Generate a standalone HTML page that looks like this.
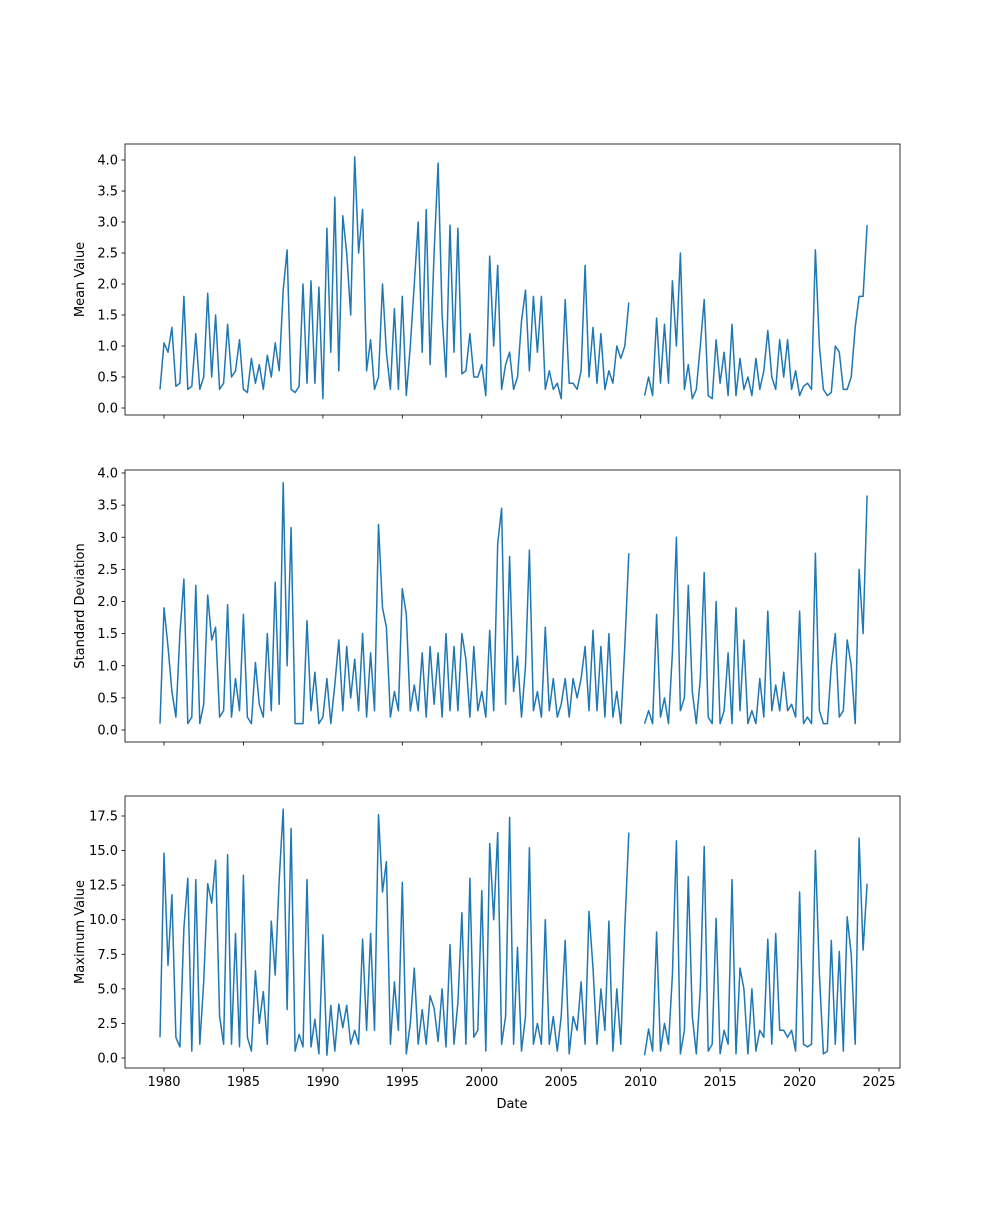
<!DOCTYPE html>
<html>
<head>
<meta charset="utf-8">
<style>
html,body{margin:0;padding:0;background:#fff;}
svg text{font-family:"DejaVu Sans","Liberation Sans",sans-serif;font-size:13px;fill:#000;}
</style>
</head>
<body>
<svg id="chart" width="1000" height="1200" xmlns="http://www.w3.org/2000/svg"></svg>
<script>
// quarterly samples starting 1979.75
const startYear = 1979.75;
const stepYears = 0.25;
const meanValues = [0.3,
1.05,0.9,1.3,0.35, 0.4,1.8,0.3,0.35, 1.2,0.3,0.5,1.85, 0.5,1.5,0.3,0.4, 1.35,0.5,0.6,1.1,
0.3,0.25,0.8,0.4, 0.7,0.3,0.85,0.5, 1.05,0.6,1.9,2.55, 0.3,0.25,0.35,2.0, 0.4,2.05,0.4,1.95,
0.15,2.9,0.9,3.4, 0.6,3.1,2.5,1.5, 4.05,2.5,3.2,0.6, 1.1,0.3,0.5,2.0, 0.9,0.3,1.6,0.3,
1.8,0.2,1.0,2.0, 3.0,0.9,3.2,0.7, 2.5,3.95,1.5,0.5, 2.95,0.9,2.9,0.55, 0.6,1.2,0.5,0.5,
0.7,0.2,2.45,1.0, 2.3,0.3,0.7,0.9, 0.3,0.5,1.4,1.9, 0.6,1.8,0.9,1.8, 0.3,0.6,0.3,0.4,
0.15,1.75,0.4,0.4, 0.3,0.6,2.3,0.5, 1.3,0.4,1.2,0.3, 0.6,0.4,1.0,0.8, 1.0,1.7,null,null,
null,0.2,0.5,0.2, 1.45,0.4,1.35,0.4, 2.05,1.0,2.5,0.3, 0.7,0.15,0.3,1.0, 1.75,0.2,0.15,1.1,
0.4,0.9,0.2,1.35, 0.2,0.8,0.3,0.5, 0.2,0.8,0.3,0.6, 1.25,0.5,0.3,1.1, 0.5,1.1,0.3,0.6,
0.2,0.35,0.4,0.3, 2.55,1.0,0.3,0.2, 0.25,1.0,0.9,0.3, 0.3,0.5,1.3,1.8, 1.8,2.95];
const stdValues = [0.1,
1.9,1.3,0.6,0.2, 1.5,2.35,0.1,0.2, 2.25,0.1,0.4,2.1, 1.4,1.6,0.2,0.3, 1.95,0.2,0.8,0.3,
1.8,0.2,0.1,1.05, 0.4,0.2,1.5,0.3, 2.3,0.4,3.85,1.0, 3.15,0.1,0.1,0.1, 1.7,0.3,0.9,0.1,
0.2,0.8,0.1,0.7, 1.4,0.3,1.3,0.5, 1.1,0.3,1.5,0.2, 1.2,0.3,3.2,1.9, 1.6,0.2,0.6,0.3,
2.2,1.8,0.3,0.7, 0.3,1.2,0.2,1.3, 0.4,1.2,0.2,1.5, 0.3,1.3,0.3,1.5, 1.1,0.2,1.3,0.3,
0.6,0.2,1.55,0.3, 2.9,3.45,0.4,2.7, 0.6,1.15,0.2,1.0, 2.8,0.3,0.6,0.2, 1.6,0.3,0.8,0.2,
0.4,0.8,0.2,0.8, 0.5,0.8,1.3,0.3, 1.55,0.3,1.3,0.2, 1.5,0.2,0.6,0.1, 1.3,2.75,null,null,
null,0.1,0.3,0.1, 1.8,0.2,0.5,0.1, 1.2,3.0,0.3,0.5, 2.25,0.6,0.1,0.8, 2.45,0.2,0.1,2.0,
0.1,0.3,1.2,0.1, 1.9,0.3,1.4,0.1, 0.3,0.1,0.8,0.2, 1.85,0.3,0.7,0.3, 0.9,0.3,0.4,0.2,
1.85,0.1,0.2,0.1, 2.75,0.3,0.1,0.1, 1.0,1.5,0.2,0.3, 1.4,1.0,0.1,2.5, 1.5,3.65];
const maxValues = [1.5,
14.8,6.7,11.8,1.5, 0.8,9.4,13.0,0.5, 12.9,1.0,5.5,12.6, 11.2,14.3,3.0,1.0, 14.7,1.0,9.0,0.8,
13.2,1.5,0.5,6.3, 2.5,4.8,1.0,9.9, 6.0,12.9,18.0,3.5, 16.6,0.5,1.7,0.8, 12.9,0.8,2.8,0.3,
8.9,0.2,3.8,0.5, 3.9,2.2,3.8,1.0, 2.0,1.0,8.6,2.0, 9.0,2.0,17.6,12.0, 14.2,1.0,5.5,2.0,
12.7,0.3,2.5,6.5, 1.0,3.5,1.0,4.5, 3.6,1.2,5.0,0.8, 8.2,1.0,4.0,10.5, 1.0,13.0,1.5,2.0,
12.1,0.5,15.5,10.0, 16.3,1.0,3.0,17.4, 1.0,8.0,0.5,3.0, 15.2,1.0,2.5,1.0, 10.0,1.0,3.0,0.5,
3.0,8.5,0.3,3.0, 2.0,5.5,1.0,10.6, 6.5,1.0,5.0,2.0, 9.9,0.5,5.0,1.0, 9.4,16.3,null,null,
null,0.2,2.1,0.5, 9.1,0.5,2.5,1.0, 6.0,15.7,0.3,2.0, 13.1,3.0,0.3,5.0, 15.3,0.5,1.0,10.1,
0.3,2.0,1.0,12.9, 0.3,6.5,5.0,0.3, 5.0,0.5,2.0,1.5, 8.6,1.0,9.0,2.0, 2.0,1.5,2.0,0.5,
12.0,1.0,0.8,1.0, 15.0,6.0,0.3,0.5, 8.5,1.0,7.7,0.5, 10.2,7.5,1.0,15.9, 7.8,12.6];
const xTicks = [1980,1985,1990,1995,2000,2005,2010,2015,2020,2025];
const meanTicks = [0.0,0.5,1.0,1.5,2.0,2.5,3.0,3.5,4.0];
const stdTicks = [0.0,0.5,1.0,1.5,2.0,2.5,3.0,3.5,4.0];
const maxTicks = [0.0,2.5,5.0,7.5,10.0,12.5,15.0,17.5];
const yLabels = ["Mean Value","Standard Deviation","Maximum Value"];

const NS = "http://www.w3.org/2000/svg";
const svg = document.getElementById('chart');
const L = 125, R = 900;
const xScale = y => 164 + (y - 1980) * (879 - 164) / 45;
function mk(tag, attrs, parent){ const e = document.createElementNS(NS, tag); for (const k in attrs) e.setAttribute(k, attrs[k]); parent.appendChild(e); return e; }

const panels = [
  {top:144, bot:415, y0:408, perUnit:62, vals:meanValues, ticks:meanTicks, fmt:v=>v.toFixed(1), name:'mean'},
  {top:470, bot:742, y0:730, perUnit:64.25, vals:stdValues, ticks:stdTicks, fmt:v=>v.toFixed(1), name:'std'},
  {top:796, bot:1068, y0:1058, perUnit:13.83, vals:maxValues, ticks:maxTicks, fmt:v=>v.toFixed(1), name:'max'}
];

panels.forEach((p, pi) => {
  const g = mk('g', {}, svg);
  
  
  const ys = v => p.y0 - v * p.perUnit;
  // line
  let d = '', pen = false;
  p.vals.forEach((v, i) => {
    if (v === null) { pen = false; return; }
    const x = xScale(startYear + i * stepYears), y = ys(v);
    d += (pen ? 'L' : 'M') + x.toFixed(1) + ' ' + y.toFixed(1);
    pen = true;
  });
  const line = mk('path', {d:d, fill:'none', stroke:'#1f77b4', 'stroke-width':1.5, 'stroke-linejoin':'round'}, g);
  
  
  // frame
  const fr = mk('rect', {x:L, y:p.top, width:R-L, height:p.bot-p.top, fill:'none', stroke:'#000', 'stroke-width':0.8}, g);
  
  
  // y ticks
  p.ticks.forEach(t => {
    const y = ys(t);
    mk('line', {x1:L-3.5, x2:L, y1:y, y2:y, stroke:'#000', 'stroke-width':0.8}, g);
    const tx = mk('text', {x:L-7, y:y+4.5, 'text-anchor':'end'}, g);
    tx.textContent = p.fmt(t);
    
    
  });
  // x ticks
  xTicks.forEach(t => {
    const x = xScale(t);
    mk('line', {x1:x, x2:x, y1:p.bot, y2:p.bot+3.5, stroke:'#000', 'stroke-width':0.8}, g);
    if (pi === 2) {
      const tx = mk('text', {x:x, y:p.bot+18, 'text-anchor':'middle'}, g);
      tx.textContent = t;
      
      
    }
  });
  const cy = (p.top + p.bot) / 2;
  const yl = mk('text', {x:0, y:0, 'text-anchor':'middle', transform:'translate(84,' + cy + ') rotate(-90)'}, g);
  yl.textContent = yLabels[pi];
  
  
});
const xl = mk('text', {x:512, y:1108, 'text-anchor':'middle'}, svg);
xl.textContent = 'Date';


</script>
</body>
</html>
